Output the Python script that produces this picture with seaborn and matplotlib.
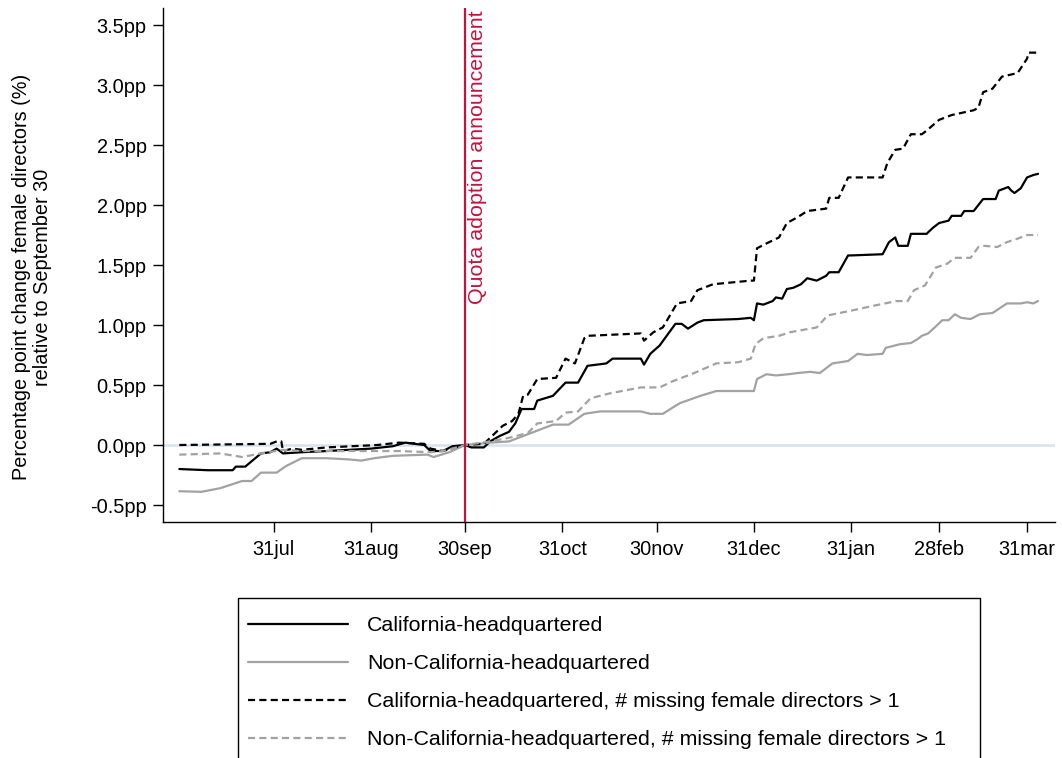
import numpy as np
import pandas as pd
import matplotlib
matplotlib.use("Agg")
import matplotlib.pyplot as plt
import matplotlib.transforms as mtransforms
from matplotlib.patches import Rectangle
import seaborn as sns

# ---------------- data (days relative to 30 Sep 2018, percentage points) ----------------
base_date = "2018-09-30"

ca_days = [-91, -82, -74, -73, -70, -65, -62, -60, -58, -52, -44, -30, -23, -19, -13, -11, -7, -4, 0,
           2, 6, 8, 11, 14, 16, 18, 22, 23, 28, 32, 36, 39, 45, 47, 56, 57, 59, 62, 67, 69, 71, 74, 76,
           87, 91, 92, 93, 95, 97, 98, 99, 101, 102.5, 104.5, 107, 109, 112, 115, 116, 119, 122, 123,
           133, 135, 137, 138, 141, 142, 147, 149, 151, 154, 155, 158, 159, 162, 165, 169, 170, 173,
           174, 175, 177, 179, 181, 182.5]
ca_vals = [-0.20, -0.21, -0.21, -0.18, -0.18, -0.07, -0.06, -0.03, -0.07, -0.06, -0.05, -0.03, -0.01,
           0.02, 0.00, -0.05, -0.05, -0.01, 0.00,
           -0.02, -0.02, 0.03, 0.075, 0.11, 0.18, 0.30, 0.30, 0.37, 0.41, 0.52, 0.52, 0.66, 0.68, 0.72,
           0.72, 0.67, 0.76, 0.83, 1.01, 1.01, 0.97, 1.02, 1.04,
           1.05, 1.06, 1.04, 1.18, 1.17, 1.19, 1.20, 1.23, 1.22, 1.30, 1.31, 1.34, 1.39, 1.37, 1.41,
           1.44, 1.44, 1.58, 1.58,
           1.59, 1.69, 1.73, 1.66, 1.66, 1.76, 1.76, 1.81, 1.85, 1.87, 1.91, 1.91, 1.95, 1.95, 2.05,
           2.05, 2.12, 2.15, 2.12, 2.10, 2.14, 2.23, 2.25, 2.26]

nonca_days = [-91, -84, -78, -71, -68, -65, -60, -57, -52, -44, -37, -33, -29, -23, -12, -10, -5, 0,
              8, 14, 20, 28, 33, 38, 43, 56, 59, 63, 66, 68.5, 75, 80, 92, 93, 96, 99, 103, 106, 110,
              113, 117, 122, 125, 128, 133, 134, 138.5, 142, 144, 145.5, 147.5, 150, 152, 154, 156,
              158, 161, 164, 168, 172.6, 177, 179, 181, 182.5]
nonca_vals = [-0.385, -0.39, -0.36, -0.30, -0.30, -0.23, -0.23, -0.175, -0.11, -0.11, -0.12, -0.13,
              -0.11, -0.09, -0.08, -0.10, -0.06, 0.00,
              0.02, 0.03, 0.09, 0.17, 0.17, 0.26, 0.28, 0.28, 0.26, 0.26, 0.31, 0.35, 0.41, 0.45, 0.45,
              0.55, 0.59, 0.58, 0.59, 0.60, 0.61, 0.60, 0.68, 0.70, 0.76, 0.75, 0.76, 0.81, 0.84, 0.85,
              0.88, 0.91, 0.93, 0.99, 1.04, 1.04, 1.09, 1.06, 1.05, 1.09, 1.10, 1.18, 1.18, 1.19, 1.18,
              1.20]

ca_miss_days = [-91, -62, -60, -58.5, -58, -55, -52, -44, -28, -21, -13, -11, -7, -2, 0,
                6, 8, 12, 15, 17, 18.5, 20, 23, 29, 32, 35, 38, 39, 56, 57, 60, 63, 67.5, 72, 74, 79,
                91, 92, 93, 96, 100, 102.5, 106, 109, 115, 116, 119, 122, 133, 134.5, 137, 139.5, 142,
                145.5, 147, 151, 155, 162, 163.5, 165, 168, 171, 176, 179, 179.5, 182.5]
ca_miss_vals = [0.00, 0.01, 0.03, 0.03, -0.05, -0.03, -0.04, -0.02, 0.00, 0.02, 0.01, -0.03, -0.05,
                -0.01, 0.00,
                0.01, 0.06, 0.16, 0.20, 0.26, 0.41, 0.42, 0.55, 0.56, 0.72, 0.68, 0.89, 0.91, 0.93,
                0.87, 0.94, 0.98, 1.18, 1.20, 1.29, 1.34,
                1.37, 1.37, 1.64, 1.68, 1.73, 1.85, 1.90, 1.95, 1.97, 2.06, 2.06, 2.23, 2.23, 2.35,
                2.46, 2.47, 2.59, 2.59, 2.62, 2.71, 2.75, 2.79, 2.81, 2.94, 2.97, 3.07, 3.10, 3.22,
                3.27, 3.27]

nonca_miss_days = [-91, -78, -71, -65, -58, -52, -21, -11, -7, 0,
                   8, 14, 20, 23, 29, 32, 36, 40, 46, 56, 62, 66, 73, 80, 87, 91, 92.5, 95, 100, 103.5,
                   112, 115.5, 123, 130, 137.5, 141, 143, 146.5, 150, 153.5, 156, 161, 163.5, 165.5,
                   169.5, 172.5, 176, 179, 182.5]
nonca_miss_vals = [-0.08, -0.07, -0.10, -0.07, -0.04, -0.05, -0.05, -0.06, -0.05, 0.00,
                   0.03, 0.06, 0.10, 0.18, 0.20, 0.27, 0.28, 0.39, 0.43, 0.48, 0.48, 0.53, 0.60, 0.68,
                   0.69, 0.72, 0.84, 0.89, 0.91, 0.94, 0.98, 1.08, 1.12, 1.16, 1.20, 1.20, 1.29, 1.33,
                   1.48, 1.51, 1.56, 1.56, 1.65, 1.66, 1.65, 1.69, 1.72, 1.75, 1.75]

series_labels = ["California-headquartered",
                 "Non-California-headquartered",
                 "California-headquartered, # missing female directors > 1",
                 "Non-California-headquartered, # missing female directors > 1"]

tick_dates = ["2018-07-31", "2018-08-31", "2018-09-30", "2018-10-31", "2018-11-30",
              "2018-12-31", "2019-01-31", "2019-02-28", "2019-03-28"]
tick_labels = ["31jul", "31aug", "30sep", "31oct", "30nov", "31dec", "31jan", "28feb", "31mar"]
ytick_vals = [-0.5, 0.0, 0.5, 1.0, 1.5, 2.0, 2.5, 3.0, 3.5]

# ---------------- styling ----------------
sns.set_style("ticks")
plt.rcParams["font.family"] = ["Liberation Sans", "DejaVu Sans"]
plt.rcParams["text.color"] = "black"
plt.rcParams["xtick.color"] = "black"
plt.rcParams["ytick.color"] = "black"
plt.rcParams["axes.labelcolor"] = "black"

FS_TICK = 14.4
FS_YLAB = 14.3
FS_LEG = 15.4
FS_ANN = 15.4
BLACK = "#000000"
GRAY = "#a2a2a2"
RED = "#c5123e"
ZERO = "#d8e2ea"
LW = 1.6
DASH = (0, (3.2, 1.9))

base = pd.Timestamp(base_date)
def to_dates(days):
    return base + pd.to_timedelta(np.asarray(days, dtype=float), unit="D")

fig = plt.figure(figsize=(10.62, 7.58), dpi=100)
W, H = 1062, 758
ax = fig.add_axes([163 / W, 1 - 521.7 / H, (1055 - 163) / W, (521.7 - 8) / H])

ax.axhline(0, color=ZERO, lw=1.8, zorder=1)

specs = [
    (ca_days, ca_vals, BLACK, "-"),
    (nonca_days, nonca_vals, GRAY, "-"),
    (ca_miss_days, ca_miss_vals, BLACK, DASH),
    (nonca_miss_days, nonca_miss_vals, GRAY, DASH),
]
handles = []
for (d, v, c, ls), lab in zip(specs, series_labels):
    df = pd.DataFrame({"date": to_dates(d), "value": v})
    sns.lineplot(data=df, x="date", y="value", ax=ax, color=c, lw=LW, linestyle=ls,
                 estimator=None, sort=False, zorder=3)
    handles.append(ax.get_lines()[-1])

ax.axvline(base, color=RED, lw=1.6, zorder=4)
trans = mtransforms.blended_transform_factory(ax.transData, ax.transAxes)
ax.text(base + pd.Timedelta(days=0.9), 0.996, "Quota adoption announcement", rotation=90,
        ha="left", va="top", color=RED, fontsize=FS_ANN, transform=trans)

ax.set_xlim(base + pd.Timedelta(days=-96.2), base + pd.Timedelta(days=187.9))
ax.set_ylim(-0.639, 3.642)

ax.set_xticks(pd.to_datetime(tick_dates))
ax.set_xticklabels(tick_labels)
ax.set_yticks(ytick_vals)
ax.set_yticklabels([f"{t:.1f}pp" for t in ytick_vals])
ax.tick_params(axis="both", labelsize=FS_TICK, length=7.2, width=1.0, color="black",
               labelcolor="black", direction="out")
ax.tick_params(axis="x", pad=6)
ax.tick_params(axis="y", pad=4.6)

ax.set_xlabel("")
ax.set_ylabel("")
for s in ["top", "right"]:
    ax.spines[s].set_visible(False)
for s in ["left", "bottom"]:
    ax.spines[s].set_color("black")
    ax.spines[s].set_linewidth(1.0)

fig.text(32 / W, 1 - 277 / H,
         "Percentage point change female directors (%)\nrelative to September 30",
         rotation=90, ha="center", va="center", multialignment="center", fontsize=FS_YLAB,
         linespacing=1.12, color="black")

# legend frame (drawn as a plain rectangle, extends past the bottom edge like the reference)
fig.patches.append(Rectangle((238 / W, 1 - 775 / H), (980 - 238) / W, (775 - 598) / H,
                             transform=fig.transFigure, fill=False, edgecolor="black",
                             lw=1.0, zorder=5))
leg = ax.legend(handles, series_labels, loc="upper left",
                bbox_to_anchor=(248 / W, 1 - 616 / H),
                bbox_transform=fig.transFigure, borderaxespad=0, borderpad=0,
                frameon=False, handlelength=4.67, handletextpad=0.89, labelspacing=0.89,
                fontsize=FS_LEG, labelcolor="black")

fig.savefig("out.png", dpi=100)
